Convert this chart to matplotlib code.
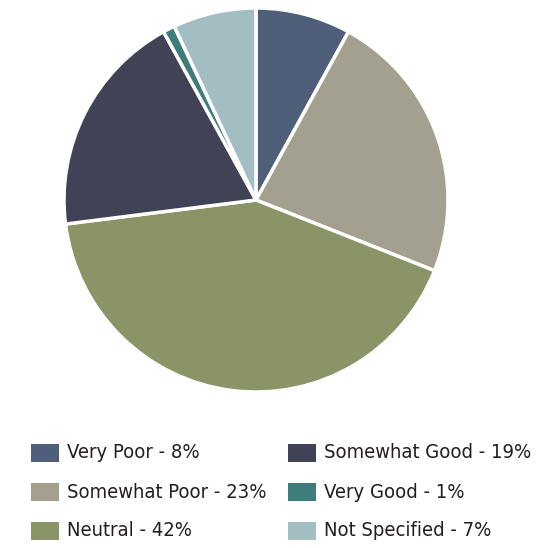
import matplotlib
matplotlib.use('Agg')
import matplotlib.pyplot as plt
from matplotlib.patches import Rectangle

categories = ['Very Poor', 'Somewhat Poor', 'Neutral', 'Somewhat Good', 'Very Good', 'Not Specified']
shares = [8, 23, 42, 19, 1, 7]
colors = ['#4f5f7a', '#a4a08f', '#8a9466', '#414256', '#3f7d7b', '#a3bec3']

W, H = 552, 548
fig = plt.figure(figsize=(W / 100, H / 100), dpi=100)

# pie centre ~ (256, 200) px, radius ~192 px
cx, cy, r = 256, 200, 192
ax = fig.add_axes([(cx - r) / W, (H - cy - r) / H, 2 * r / W, 2 * r / H])
ax.pie(shares, colors=colors, startangle=90, counterclock=False,
       wedgeprops=dict(edgecolor='white', linewidth=2.5))
ax.set_xlim(-1.0, 1.0)
ax.set_ylim(-1.0, 1.0)
ax.set_aspect('auto')
ax.axis('off')

# legend, two columns filled top to bottom
col_x = [31, 288]
row_y = [453, 492, 531]
for i, (name, val, c) in enumerate(zip(categories, shares, colors)):
    x0 = col_x[i // 3]
    y0 = row_y[i % 3]
    fig.patches.append(Rectangle((x0 / W, (H - y0 - 9) / H), 28 / W, 18 / H,
                                 transform=fig.transFigure, facecolor=c, edgecolor='none'))
    fig.text((x0 + 36) / W, (H - y0) / H, f'{name} - {val}%', va='center', ha='left',
             fontsize=14.5, color='#231f20', family='DejaVu Sans', stretch='condensed')

fig.savefig('out.png', dpi=100)
